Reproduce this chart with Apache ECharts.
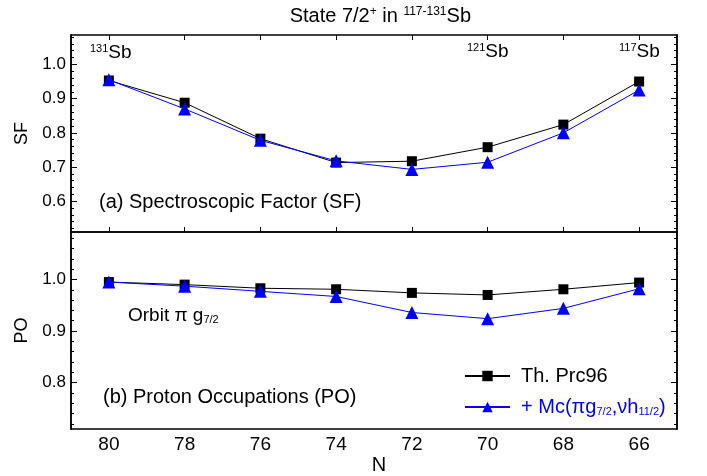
<!DOCTYPE html>
<html>
<head>
<meta charset="utf-8">
<script src="https://cdn.jsdelivr.net/npm/echarts@6/dist/echarts.min.js"></script>
<style>
html,body{margin:0;padding:0;background:#fff;}
#c{width:707px;height:476px;}
</style>
</head>
<body>
<div id="c"></div>
<script>
// ---- data ----
const categories = ['80', '78', '76', '74', '72', '70', '68', '66'];
const sfTh = [0.953, 0.888, 0.783, 0.713, 0.717, 0.758, 0.824, 0.950];
const sfMc = [0.955, 0.870, 0.778, 0.718, 0.693, 0.714, 0.800, 0.925];
const poTh = [0.995, 0.990, 0.983, 0.981, 0.974, 0.970, 0.981, 0.994];
const poMc = [0.995, 0.987, 0.977, 0.967, 0.936, 0.924, 0.944, 0.982];
const sfTicks = [0.6, 0.7, 0.8, 0.9, 1.0];
const poTicks = [0.8, 0.9, 1.0];
const sfMinor = [0.52, 0.54, 0.56, 0.58, 0.62, 0.64, 0.66, 0.68, 0.72, 0.74, 0.76, 0.78, 0.82, 0.84, 0.86, 0.88, 0.92, 0.94, 0.96, 0.98, 1.02, 1.04, 1.06, 1.08];
const poMinor = [0.72, 0.74, 0.76, 0.78, 0.82, 0.84, 0.86, 0.88, 0.92, 0.94, 0.96, 0.98, 1.02, 1.04, 1.06, 1.08];
const nameTh = 'Th. Prc96';
const nameMc = '+ Mc(πg7/2,νh11/2)';

const FONT = '"Liberation Sans", Arial, sans-serif';
const BLUE = '#0000ff';

function yAx(grid, min, max, pos, values, len, labels) {
  return {
    type: 'value', gridIndex: grid, position: pos, min: min, max: max,
    axisLine: {show: true, onZero: false, lineStyle: {color: '#000', width: 1.5}},
    axisTick: {show: true, inside: true, length: len, customValues: values, lineStyle: {color: '#000', width: 1}},
    axisLabel: {show: labels, customValues: values, color: '#000', fontSize: 17, fontFamily: FONT, margin: 5,
      formatter: v => v.toFixed(1)},
    splitLine: {show: false}
  };
}
function xAx(grid, pos, labels, ticks) {
  return {
    type: 'category', gridIndex: grid, position: pos, data: categories, boundaryGap: true,
    axisLine: {show: true, onZero: false, lineStyle: {color: '#000', width: 1.5}},
    axisTick: {show: ticks, inside: true, alignWithLabel: true, length: 5, lineStyle: {color: '#000', width: 1}},
    axisLabel: {show: labels, color: '#000', fontSize: 19, fontFamily: FONT, margin: 6},
    splitLine: {show: false}
  };
}

const sfMin = 0.51, sfMax = 1.086, poMin = 0.71, poMax = 1.092;

const xAxes = [
  xAx(0, 'bottom', false, true),
  xAx(0, 'top', false, true),
  Object.assign(xAx(1, 'bottom', true, false), {
    name: 'N', nameLocation: 'middle', nameGap: 24,
    nameTextStyle: {color: '#000', fontSize: 20, fontFamily: FONT, padding: [0, 0, 0, 10]}
  }),
  xAx(1, 'top', false, false)
];
const yAxes = [
  Object.assign(yAx(0, sfMin, sfMax, 'left', sfTicks, 6, true), {
    name: 'SF', nameLocation: 'middle', nameGap: 38,
    nameTextStyle: {color: '#000', fontSize: 18, fontFamily: FONT}
  }),
  yAx(0, sfMin, sfMax, 'left', sfMinor, 3, false),
  yAx(0, sfMin, sfMax, 'right', sfTicks, 6, false),
  yAx(0, sfMin, sfMax, 'right', sfMinor, 3, false),
  Object.assign(yAx(1, poMin, poMax, 'left', poTicks, 6, true), {
    name: 'PO', nameLocation: 'middle', nameGap: 34,
    nameTextStyle: {color: '#000', fontSize: 18, fontFamily: FONT}
  }),
  yAx(1, poMin, poMax, 'left', poMinor, 3, false),
  yAx(1, poMin, poMax, 'right', poTicks, 6, false),
  yAx(1, poMin, poMax, 'right', poMinor, 3, false)
];

function ser(name, data, xi, yi, color, symbol, size) {
  return {
    type: 'line', name: name, data: data, xAxisIndex: xi, yAxisIndex: yi,
    symbol: symbol, symbolSize: size, showAllSymbol: true,
    lineStyle: {color: color, width: 1},
    itemStyle: {color: color},
    emphasis: {disabled: true}, animation: false, z: symbol === 'rect' ? 2 : 3
  };
}

const supT = {fontSize: 11, fontFamily: FONT, fill: '#000', verticalAlign: 'top'};

const option = {
  animation: false,
  backgroundColor: '#fff',
  grid: [
    {left: 71, top: 35, width: 606, height: 197, containLabel: false},
    {left: 71, top: 232, width: 606, height: 199, containLabel: false}
  ],
  xAxis: xAxes,
  yAxis: yAxes,
  legend: {
    orient: 'vertical', left: 459, top: 361, itemWidth: 45, itemHeight: 13, itemGap: 11,
    selectedMode: false,
    data: [{name: nameTh}, {name: nameMc}],
    formatter: n => n === nameMc
      ? '{b|+ Mc(πg}{bs|7/2}{b|,νh}{bs|11/2}{b|)}'
      : '{k|Th. Prc96}',
    textStyle: {
      fontSize: 20, fontFamily: FONT, padding: [0, 0, 0, 6],
      rich: {
        k: {color: '#000', fontSize: 20, fontFamily: FONT},
        b: {color: BLUE, fontSize: 20, fontFamily: FONT},
        bs: {color: BLUE, fontSize: 11, fontFamily: FONT, verticalAlign: 'bottom'}
      }
    }
  },
  series: [
    ser(nameTh, sfTh, 0, 0, '#000', 'rect', 10),
    ser(nameMc, sfMc, 0, 0, BLUE, 'triangle', 13),
    ser(nameTh, poTh, 2, 4, '#000', 'rect', 10),
    ser(nameMc, poMc, 2, 4, BLUE, 'triangle', 13)
  ],
  graphic: [
    {type: 'text', x: 471, y: 16, style: {
      text: 'State 7/2{s|+} in {s|117-131}Sb', textAlign: 'right', textVerticalAlign: 'middle',
      fontSize: 20, fontFamily: FONT, fill: '#000',
      rich: {s: {fontSize: 12, fontFamily: FONT, fill: '#000', verticalAlign: 'top'}}}},
    {type: 'text', x: 90, y: 53, style: {
      text: '{s|131}Sb', textAlign: 'left', textVerticalAlign: 'middle',
      fontSize: 19, fontFamily: FONT, fill: '#000', rich: {s: supT}}},
    {type: 'text', x: 467, y: 52, style: {
      text: '{s|121}Sb', textAlign: 'left', textVerticalAlign: 'middle',
      fontSize: 19, fontFamily: FONT, fill: '#000', rich: {s: supT}}},
    {type: 'text', x: 619, y: 52, style: {
      text: '{s|117}Sb', textAlign: 'left', textVerticalAlign: 'middle',
      fontSize: 19, fontFamily: FONT, fill: '#000', rich: {s: supT}}},
    {type: 'text', x: 99, y: 202, style: {
      text: '(a) Spectroscopic Factor (SF)', textAlign: 'left', textVerticalAlign: 'middle',
      fontSize: 20, fontFamily: FONT, fill: '#000'}},
    {type: 'text', x: 103, y: 397, style: {
      text: '(b) Proton Occupations (PO)', textAlign: 'left', textVerticalAlign: 'middle',
      fontSize: 20, fontFamily: FONT, fill: '#000'}},
    {type: 'text', x: 128, y: 316, style: {
      text: 'Orbit π g{u|7/2}', textAlign: 'left', textVerticalAlign: 'middle',
      fontSize: 19, fontFamily: FONT, fill: '#000',
      rich: {u: {fontSize: 11, fontFamily: FONT, fill: '#000', verticalAlign: 'bottom'}}}}
  ]
};

const chart = echarts.init(document.getElementById('c'), null, {renderer: 'canvas'});
chart.setOption(option);
</script>
</body>
</html>
